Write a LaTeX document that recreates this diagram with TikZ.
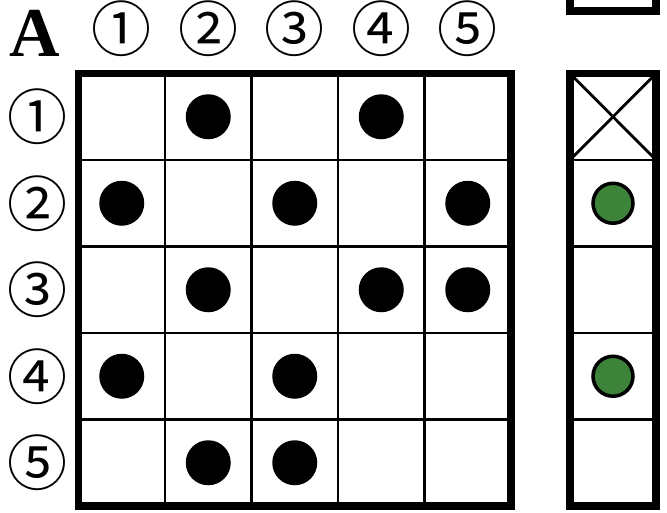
\documentclass[tikz,border=0pt]{standalone}
\usepackage{fontspec}
\newfontfamily\circfont{Noto Sans CJK JP}
\newfontfamily\afont{Liberation Serif}
\definecolor{dotgreen}{RGB}{61,131,58}
\begin{document}
\begin{tikzpicture}[x=1pt,y=-1pt,
  thinline/.style={line width=2.4pt},
  thickline/.style={line width=7.5pt},
  blackdot/.style={circle,fill=black,inner sep=0pt,minimum size=45pt},
  greendot/.style={circle,fill=dotgreen,draw=black,line width=3.5pt,inner sep=0pt,minimum size=40pt},
  lbl/.style={font=\circfont\fontsize{60}{60}\selectfont,inner sep=0pt}]
\useasboundingbox (0,0) rectangle (667,512);
\def\x{78.5}\def\y{73.5}\def\c{86.5}
% grid thin lines
\foreach \i in {1,2,3,4}{
  \draw[thinline] (\x+\i*\c,\y) -- (\x+\i*\c,\y+5*\c);
  \draw[thinline] (\x,\y+\i*\c) -- (\x+5*\c,\y+\i*\c);
}
\draw[thickline] (\x,\y) rectangle (\x+5*\c,\y+5*\c);
% right column
\def\rx{570}\def\rw{86}
\foreach \i in {1,2,3,4}{
  \draw[thinline] (\rx,\y+\i*\c) -- (\rx+\rw,\y+\i*\c);
}
\draw[line width=2.8pt] (\rx,\y) -- (\rx+\rw,\y+\c) (\rx+\rw,\y) -- (\rx,\y+\c);
\draw[thickline] (\rx,\y) rectangle (\rx+\rw,\y+5*\c);
% top partial box
\draw[thickline] (\rx,-60) rectangle (\rx+\rw,11);
% labels
\node[font=\afont\bfseries\fontsize{70}{70}\selectfont,inner sep=0pt] (A) at (35,33) {A};
\node[lbl] (c1) at (\x+0.5*\c,29) {①};
\node[lbl] (c2) at (\x+1.5*\c,29) {②};
\node[lbl] (c3) at (\x+2.5*\c,29) {③};
\node[lbl] (c4) at (\x+3.5*\c,29) {④};
\node[lbl] (c5) at (\x+4.5*\c,29) {⑤};
\node[lbl] (r1) at (37,\y+0.5*\c) {①};
\node[lbl] (r2) at (37,\y+1.5*\c) {②};
\node[lbl] (r3) at (37,\y+2.5*\c) {③};
\node[lbl] (r4) at (37,\y+3.5*\c) {④};
\node[lbl] (r5) at (37,\y+4.5*\c) {⑤};
% dots
\foreach \r/\cc [count=\n] in {1/2,1/4,2/1,2/3,2/5,3/2,3/4,3/5,4/1,4/3,5/2,5/3}{
  \node[blackdot] (d\n) at (\x+\cc*\c-0.5*\c,\y+\r*\c-0.5*\c) {};
}
\node[greendot] (g1) at (\rx+0.5*\rw,\y+1.5*\c) {};
\node[greendot] (g2) at (\rx+0.5*\rw,\y+3.5*\c) {};
\end{tikzpicture}
\end{document}
